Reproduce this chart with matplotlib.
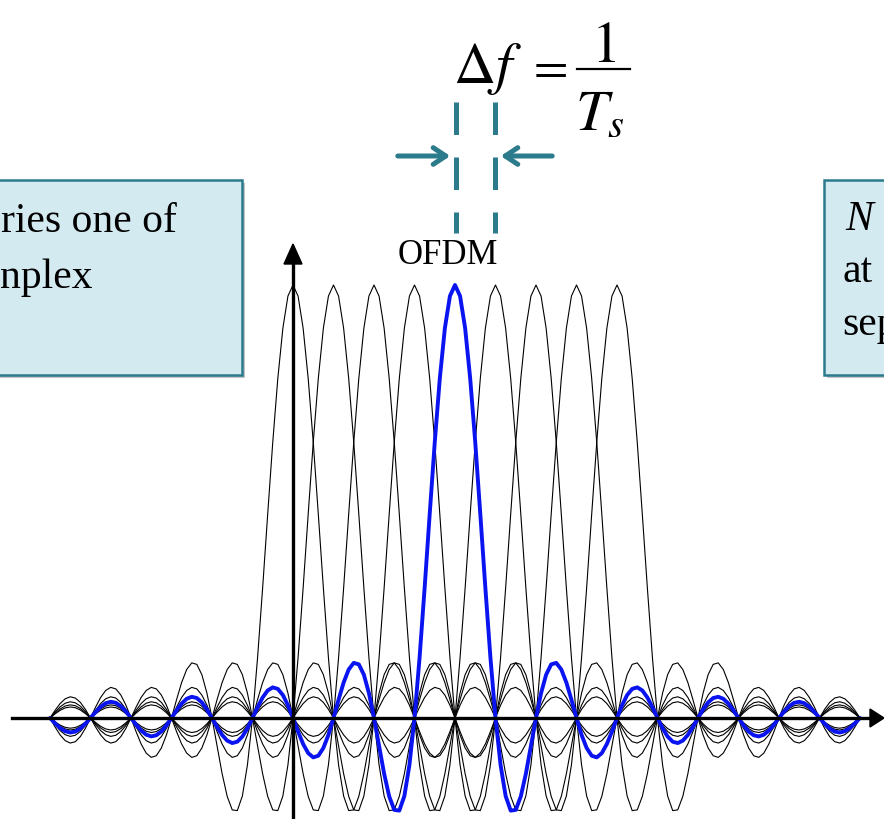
import numpy as np
import matplotlib.pyplot as plt
from matplotlib.patches import Rectangle, FancyArrowPatch

plt.rcParams['mathtext.fontset'] = 'stix'
plt.rcParams['font.family'] = ['Liberation Serif', 'DejaVu Serif']

# subcarrier centres (in units of delta f), the highlighted one, common window
centres = [0, 1, 2, 3, 4, 5, 6, 7, 8]
highlight = 4
window = (-6, 14)
peak = 1.0

W, H = 884, 819
fig = plt.figure(figsize=(W / 100, H / 100), dpi=100)

# data axes: x=0 at pixel 293, spacing 40.5 px; y=0 at pixel 718, peak at 285
px_per_k = 40.5
px_per_y = 433.0
ax = fig.add_axes([0, 0, 1, 1])
ax.set_xlim(-293 / px_per_k, (W - 293) / px_per_k)
ax.set_ylim(-(H - 718) / px_per_y, 718 / px_per_y)
ax.axis('off')

k = np.arange(window[0], window[1] + 1e-9, 0.125)
for c in centres:
    if c == highlight:
        continue
    ax.plot(k, peak * np.sinc(k - c), color='black', lw=0.8, zorder=3)
ax.plot(k, peak * np.sinc(k - highlight), color='#0a14f0', lw=2.8, zorder=4,
        solid_capstyle='round')

# overlay in pixel coordinates for axes arrows and annotations
ov = fig.add_axes([0, 0, 1, 1], facecolor='none')
ov.set_xlim(0, W)
ov.set_ylim(H, 0)
ov.axis('off')

# axes with arrowheads
ov.plot([12, 872], [718, 718], color='black', lw=2.4, zorder=2)
ov.fill([870, 884, 870], [709, 718, 727], color='black', zorder=2)
ov.plot([293, 293], [819, 262], color='black', lw=2.4, zorder=2)
ov.fill([284, 293, 302], [264, 244, 264], color='black', zorder=2)

teal = '#2b7b8c'
# dashed guide lines
for x in (456, 495):
    ov.plot([x, x], [102, 233], color=teal, lw=3.6, linestyle=(0, (6.5, 4.5)),
            solid_capstyle='butt')
# converging arrows
for x0, x1 in ((395, 453), (555, 498)):
    ov.add_patch(FancyArrowPatch((x0, 156), (x1, 156), arrowstyle='->,head_length=9,head_width=6',
                                 color=teal, lw=3.6, mutation_scale=1, capstyle='round'))

# formula
ov.text(453, 83, r'$\Delta f$', fontsize=42, ha='left', va='baseline')
ov.text(547, 69, r'$=$', fontsize=36, ha='center', va='center')
ov.text(603, 62, r'$1$', fontsize=42, ha='center', va='baseline')
ov.plot([577, 630], [69, 69], color='black', lw=1.6)
ov.text(600, 130, r'$T_s$', fontsize=42, ha='center', va='baseline')

ov.text(448, 264, 'OFDM', fontsize=25, ha='center', va='baseline')

# text boxes
box_fill = '#d4eaf1'
for x0, x1 in ((-10, 242), (824, 900)):
    ov.add_patch(Rectangle((x0 + 3, 183), x1 - x0, 195, facecolor='#9a9a9a',
                           edgecolor='none', alpha=0.6, zorder=5))
    ov.add_patch(Rectangle((x0, 180), x1 - x0, 195, facecolor=box_fill,
                           edgecolor=teal, lw=1.8, zorder=6))

ov.text(1, 232, 'ries one of', fontsize=30, ha='left', va='baseline', zorder=7)
ov.text(0, 288, 'nplex', fontsize=30, ha='left', va='baseline', zorder=7)
ov.text(845, 230, 'N', fontsize=30, style='italic', ha='left', va='baseline', zorder=7)
ov.text(842, 282, 'at', fontsize=30, ha='left', va='baseline', zorder=7)
ov.text(842, 335, 'sep', fontsize=30, ha='left', va='baseline', zorder=7)

fig.savefig('out.png', dpi=100)
